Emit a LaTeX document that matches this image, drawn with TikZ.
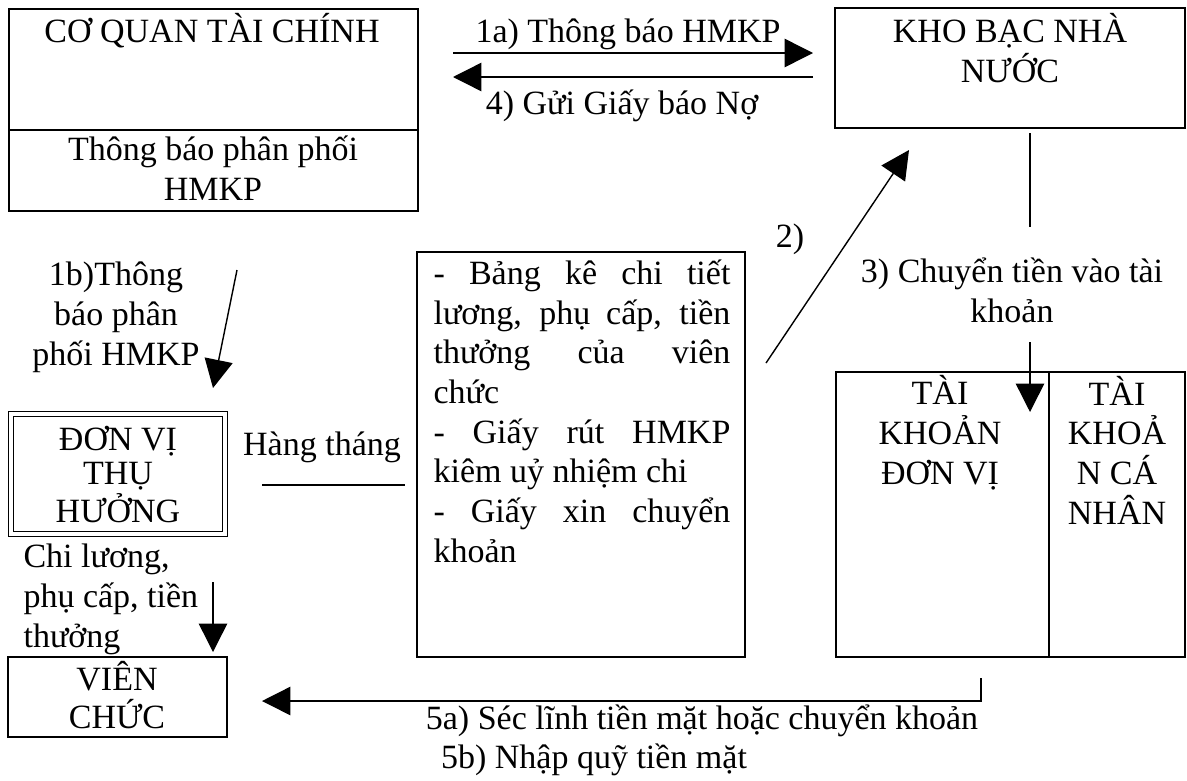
\documentclass[tikz,border=0pt]{standalone}
\usepackage{fontspec}
\setmainfont{Liberation Serif}
\usetikzlibrary{arrows.meta}
\begin{document}
\begin{tikzpicture}[x=0.353pt,y=-0.353pt,
  box/.style={draw,line width=0.7pt,inner sep=0pt},
  sz/.style 2 args={minimum width=#1*0.353pt,minimum height=#2*0.353pt},
  lbl/.style={inner sep=0pt,anchor=base,font=\fontsize{12}{14}\selectfont},
  arr/.style={line width=0.5pt,-{Triangle[length=10pt,width=10pt]}},
  ln/.style={line width=0.5pt}]
\useasboundingbox (0,0) rectangle (1187,780);
% boxes
\node[box,sz={409}{202}] (cq) at (213.5,110) {};
\coordinate (cqd) at (0,130);
\draw[line width=0.7pt] (cq.west |- cqd) -- (cq.east |- cqd);
\node[box,sz={350}{120}] (kb) at (1010,68) {};
\node[box,double,double distance=1.2pt,line width=0.4pt,sz={214}{120}] (dv) at (118,474) {};
\node[box,sz={219}{80}] (vc) at (117.5,697) {};
\node[box,sz={328}{405}] (bk) at (581,454.5) {};
\node[box,sz={349}{285}] (tk) at (1010.5,514.5) {};
\coordinate (tkd) at (1049,0);
\draw[line width=0.7pt] (tk.north -| tkd) -- (tk.south -| tkd);
% texts (multi-line nodes: base = last line's baseline)
\node[lbl] (tcq) at (212,42) {CƠ QUAN TÀI CHÍNH};
\node[lbl,align=center] (tcq2) at (213,200) {Thông báo phân phối\\HMKP};
\node[lbl,align=center] (tkb) at (1010,82) {KHO BẠC NHÀ\\NƯỚC};
\node[lbl] (t1a) at (628,42) {1a) Thông báo HMKP};
\node[lbl] (t4) at (622,114) {4) Gửi Giấy báo Nợ};
\node[lbl] (t2) at (790,247) {2)};
\node[lbl,align=center] (t3) at (1012,322) {3) Chuyển tiền vào tài\\khoản};
\node[lbl,align=center] (t1b) at (116,365) {1b)Thông\\báo phân\\phối HMKP};
\node[lbl,align=center,font=\fontsize{12}{12}\selectfont] (tdv) at (118,522) {ĐƠN VỊ\\THỤ\\HƯỞNG};
\node[lbl] (tht) at (322,455) {Hàng tháng};
\node[lbl,anchor=base west,align=left] (tbk) at (433,562)
 {\makebox[104.8pt][s]{- Bảng kê chi tiết}\\
  \makebox[104.8pt][s]{lương, phụ cấp, tiền}\\
  \makebox[104.8pt][s]{thưởng của viên}\\
  chức\\
  \makebox[104.8pt][s]{- Giấy rút HMKP}\\
  kiêm uỷ nhiệm chi\\
  \makebox[104.8pt][s]{- Giấy xin chuyển}\\
  khoản};
\node[lbl,anchor=base west,align=left] (tcl) at (23,647) {Chi lương,\\phụ cấp, tiền\\thưởng};
\node[lbl,align=center,font=\fontsize{12}{13.4}\selectfont] (tvc) at (117,728) {VIÊN\\CHỨC};
\node[lbl,align=center] (ttk1) at (940,484) {TÀI\\KHOẢN\\ĐƠN VỊ};
\node[lbl,align=center] (ttk2) at (1117,524) {TÀI\\KHOẢ\\N CÁ\\NHÂN};
\node[lbl] (t5a) at (702,729) {5a) Séc lĩnh tiền mặt hoặc chuyển khoản};
\node[lbl] (t5b) at (594,768) {5b) Nhập quỹ tiền mặt};
% connectors
\coordinate (a1s) at (453,53);  \coordinate (a1e) at (813,53);
\coordinate (a4s) at (813,77);  \coordinate (a4e) at (453,77);
\draw[arr] (a1s) -- (a1e);
\draw[arr] (a4s) -- (a4e);
\coordinate (b1s) at (237,270); \coordinate (b1e) at (213,388);
\draw[arr] (b1s) -- (b1e);
\coordinate (a2s) at (766,363); \coordinate (a2e) at (909,150);
\draw[arr] (a2s) -- (a2e);
\coordinate (k1) at (1030,133); \coordinate (k2) at (1030,227);
\coordinate (k3) at (1030,342); \coordinate (k4) at (1030,412);
\draw[ln] (k1) -- (k2);
\draw[arr] (k3) -- (k4);
\coordinate (h1) at (262,485); \coordinate (h2) at (405,485);
\draw[ln] (h1) -- (h2);
\coordinate (c1) at (213,582); \coordinate (c2) at (213,652);
\draw[arr] (c1) -- (c2);
\coordinate (f1) at (981,678); \coordinate (f2) at (981,701); \coordinate (f3) at (262,701);
\draw[arr] (f1) -- (f2) -- (f3);
\end{tikzpicture}
\end{document}
